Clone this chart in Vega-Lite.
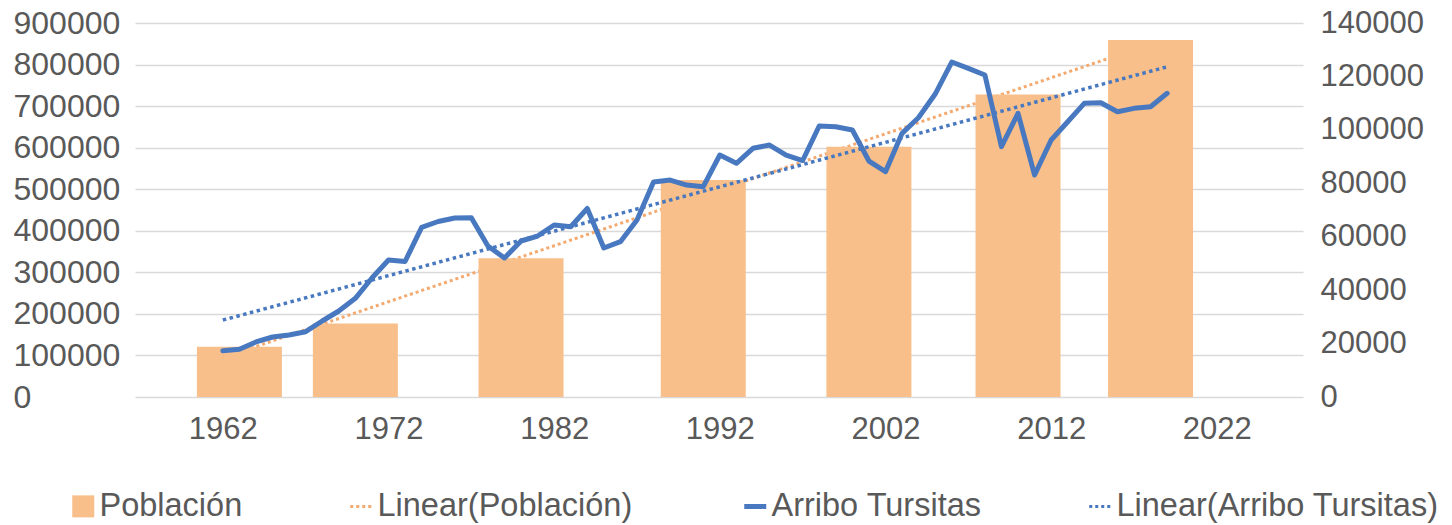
{
  "$schema": "https://vega.github.io/schema/vega-lite/v6.json",
  "width": 1168,
  "height": 374,
  "autosize": {"type": "none"},
  "padding": {"left": 135, "top": 23, "right": 149, "bottom": 128},
  "background": "white",
  "config": {
    "view": {"stroke": null},
    "font": "Liberation Sans",
    "axis": {"labelFont": "Liberation Sans", "labelColor": "#595959", "labelFontSize": 31, "domain": false, "ticks": false, "tickSize": 0, "labelFlush": false, "labelOverlap": false, "title": null},
    "legend": {"labelFont": "Liberation Sans"}
  },
  "datasets": {
    "pop": [
      {"year": 1963, "value": 121000},
      {"year": 1970, "value": 177000},
      {"year": 1980, "value": 334000},
      {"year": 1991, "value": 522000},
      {"year": 2001, "value": 602000},
      {"year": 2010, "value": 728000},
      {"year": 2018, "value": 859000}
    ],
    "popTrend": [
      {"year": 1963, "value": 108000},
      {"year": 2018, "value": 849000}
    ],
    "tour": [
      {"year": 1962, "value": 17300},
      {"year": 1963, "value": 17850},
      {"year": 1964, "value": 20600},
      {"year": 1965, "value": 22460},
      {"year": 1966, "value": 23200},
      {"year": 1967, "value": 24440},
      {"year": 1968, "value": 28450},
      {"year": 1969, "value": 32190},
      {"year": 1970, "value": 36940},
      {"year": 1971, "value": 44540},
      {"year": 1972, "value": 51280},
      {"year": 1973, "value": 50720},
      {"year": 1974, "value": 63520},
      {"year": 1975, "value": 65690},
      {"year": 1976, "value": 67000},
      {"year": 1977, "value": 67110},
      {"year": 1978, "value": 56520},
      {"year": 1979, "value": 52030},
      {"year": 1980, "value": 58390},
      {"year": 1981, "value": 60260},
      {"year": 1982, "value": 64380},
      {"year": 1983, "value": 63740},
      {"year": 1984, "value": 70560},
      {"year": 1985, "value": 55770},
      {"year": 1986, "value": 58130},
      {"year": 1987, "value": 66250},
      {"year": 1988, "value": 80470},
      {"year": 1989, "value": 81220},
      {"year": 1990, "value": 79350},
      {"year": 1991, "value": 78720},
      {"year": 1992, "value": 90580},
      {"year": 1993, "value": 87470},
      {"year": 1994, "value": 93090},
      {"year": 1995, "value": 94320},
      {"year": 1996, "value": 90580},
      {"year": 1997, "value": 88520},
      {"year": 1998, "value": 101440},
      {"year": 1999, "value": 101170},
      {"year": 2000, "value": 99940},
      {"year": 2001, "value": 88330},
      {"year": 2002, "value": 84330},
      {"year": 2003, "value": 98700},
      {"year": 2004, "value": 104620},
      {"year": 2005, "value": 113410},
      {"year": 2006, "value": 125390},
      {"year": 2007, "value": 123030},
      {"year": 2008, "value": 120520},
      {"year": 2009, "value": 93690},
      {"year": 2010, "value": 106190},
      {"year": 2011, "value": 83090},
      {"year": 2012, "value": 96200},
      {"year": 2013, "value": 103040},
      {"year": 2014, "value": 109930},
      {"year": 2015, "value": 110160},
      {"year": 2016, "value": 106790},
      {"year": 2017, "value": 108060},
      {"year": 2018, "value": 108660},
      {"year": 2019, "value": 113680}
    ],
    "tourTrend": [
      {"year": 1962, "value": 28800},
      {"year": 2019, "value": 123600}
    ]
  },
  "encoding": {
    "x": {
      "field": "year",
      "type": "quantitative",
      "scale": {"domain": [1957, 2026.9], "nice": false, "zero": false},
      "axis": {"values": [1962, 1972, 1982, 1992, 2002, 2012, 2022], "format": "d", "grid": false, "labelPadding": 17}
    }
  },
  "layer": [
    {
      "encoding": {
        "y": {
          "field": "value", "type": "quantitative",
          "scale": {"domain": [0, 900000], "nice": false},
          "axis": {"orient": "left", "values": [0, 100000, 200000, 300000, 400000, 500000, 600000, 700000, 800000, 900000], "format": "d", "grid": true, "gridColor": "#d9d9d9", "gridWidth": 1.5, "labelAlign": "left", "labelPadding": 122, "labelBaseline": "middle", "labelFontSize": 32}
        }
      },
      "layer": [
        {
          "data": {"name": "popTrend"},
          "mark": {"type": "line", "strokeWidth": 3, "strokeDash": [3, 3]},
          "encoding": {
            "color": {
              "datum": "Linear(Población)",
              "scale": {
                "domain": ["Población", "Linear(Población)", "Arribo Tursitas", "Linear(Arribo Tursitas)"],
                "range": ["#f8bf8b", "#f4a96f", "#4878bf", "#4878bf"]
              },
              "legend": {
                "orient": "none",
                "legendX": -68,
                "legendY": 467,
                "direction": "horizontal",
                "title": null,
                "labelFontSize": 32.5,
                "labelColor": "#595959",
                "labelLimit": 500,
                "symbolSize": 484,
                "symbolStrokeWidth": 3,
                "columnPadding": 101,
                "labelOffset": 0,
                "encode": {
                  "symbols": {
                    "update": {
                      "shape": {"signal": "datum.value === 'Población' ? 'square' : 'stroke'"},
                      "fill": {"signal": "scale('color', datum.value)"},
                      "stroke": {"signal": "scale('color', datum.value)"},
                      "strokeWidth": {"signal": "datum.value === 'Población' ? 0 : (datum.value === 'Arribo Tursitas' ? 5 : 3)"},
                      "strokeDash": {"signal": "indexof(datum.value, 'Linear') === 0 ? [3, 3] : [1, 0]"},
                      "opacity": {"value": 1}
                    }
                  }
                }
              }
            }
          }
        },
        {
          "data": {"name": "pop"},
          "mark": {"type": "bar", "size": 85},
          "encoding": {
            "color": {"datum": "Población"}
          }
        }
      ]
    },
    {
      "encoding": {
        "y": {
          "field": "value", "type": "quantitative",
          "scale": {"domain": [0, 140000], "nice": false},
          "axis": {"orient": "right", "values": [0, 20000, 40000, 60000, 80000, 100000, 120000, 140000], "format": "d", "grid": false, "labelAlign": "left", "labelPadding": 17, "labelBaseline": "middle"}
        }
      },
      "layer": [
        {
          "data": {"name": "tour"},
          "mark": {"type": "line", "strokeWidth": 5, "strokeJoin": "round", "strokeCap": "round"},
          "encoding": {
            "color": {"datum": "Arribo Tursitas"}
          }
        },
        {
          "data": {"name": "tourTrend"},
          "mark": {"type": "line", "strokeWidth": 3.5, "strokeDash": [3.5, 3.5]},
          "encoding": {
            "color": {"datum": "Linear(Arribo Tursitas)"}
          }
        }
      ]
    }
  ],
  "resolve": {"scale": {"y": "independent"}}
}
